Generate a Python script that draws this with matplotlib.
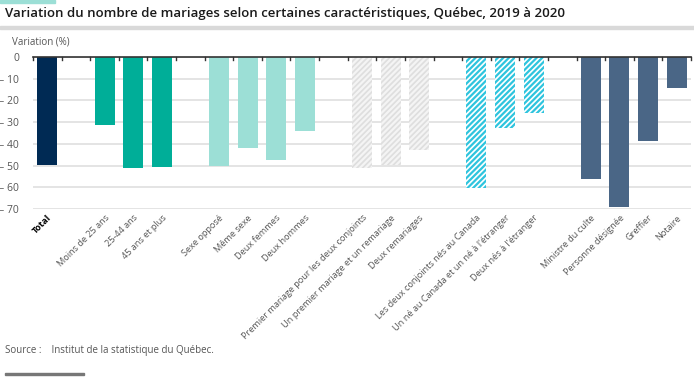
import matplotlib.pyplot as plt
from matplotlib.ticker import FuncFormatter

plt.rcParams['font.family'] = ['Open Sans', 'DejaVu Sans']
plt.rcParams['hatch.linewidth'] = 1.6

# Data (variation in %), one list per group
total_labels = ['Total']
total_values = [-49.6]

age_labels = ['Moins de 25 ans', '25-44 ans', '45 ans et plus']
age_values = [-31.5, -51.3, -50.5]

sexe_labels = ['Sexe opposé', 'Même sexe', 'Deux femmes', 'Deux hommes']
sexe_values = [-50.1, -41.7, -47.6, -34.3]

etat_labels = ['Premier mariage pour les deux conjoints',
               'Un premier mariage et un remariage', 'Deux remariages']
etat_values = [-51.1, -49.6, -42.6]

lieu_labels = ['Les deux conjoints nés au Canada',
               'Un né au Canada et un né à l\'étranger', 'Deux nés à l\'étranger']
lieu_values = [-60.5, -32.9, -25.6]

celeb_labels = ['Ministre du culte', 'Personne désignée', 'Greffier', 'Notaire']
celeb_values = [-56.4, -69.2, -38.9, -14.5]

groups = [
    (total_labels, total_values, dict(color='#002a54')),
    (age_labels, age_values, dict(color='#00ae98')),
    (sexe_labels, sexe_values, dict(color='#9cdfd6')),
    (etat_labels, etat_values, dict(color='#dedede', edgecolor='#f4f4f4', hatch='//////')),
    (lieu_labels, lieu_values, dict(color='white', edgecolor='#2ec4de', hatch='//////')),
    (celeb_labels, celeb_values, dict(color='#4a6686')),
]

fig = plt.figure(figsize=(6.94, 3.77), dpi=100)
ax = fig.add_axes([33 / 694, 1 - 209 / 377, 658 / 694, 152 / 377])

pos = 0
ticks, ticklabels = [], []
for i, (labels, values, style) in enumerate(groups):
    if i > 0:
        pos += 1  # empty slot between groups
    xs = list(range(pos, pos + len(labels)))
    ax.bar(xs, values, width=0.7, linewidth=0, zorder=3, **style)
    ticks += xs
    ticklabels += labels
    pos += len(labels)

n = pos
ax.set_xlim(-0.5, n - 0.5)
ax.set_ylim(-70, 0)
ax.set_yticks(range(-70, 1, 10))
ax.yaxis.set_major_formatter(FuncFormatter(lambda v, p: '0' if v == 0 else f'\u2013 {abs(int(v))}'))
ax.grid(axis='y', color='#e4e4e4', linewidth=1.4, zorder=0)
ax.tick_params(axis='y', length=0, labelsize=7.5, labelcolor='#555555', pad=10)

# category labels at the bottom
ax.set_xticks(ticks)
ax.set_xticklabels(ticklabels, rotation=45, ha='right', rotation_mode='anchor',
                   fontsize=6.6, color='#555555')
ax.tick_params(axis='x', length=0, pad=3)
lab0 = ax.get_xticklabels()[0]
lab0.set_fontweight('bold')
lab0.set_color('black')

# boundary tick marks along the zero line
for k in range(n + 1):
    ax.plot([k - 0.5, k - 0.5], [0, -1.4], color='#333333', linewidth=1,
            zorder=4, clip_on=False)

for s in ['left', 'right', 'bottom']:
    ax.spines[s].set_visible(False)
ax.spines['top'].set_color('#333333')
ax.spines['top'].set_linewidth(1.2)
ax.spines['top'].set_zorder(5)

fig.text(12 / 694, 1 - 42 / 377, 'Variation (%)', fontsize=7, color='#555555', va='center')

# header
fig.patches.append(plt.Rectangle((0, 1 - 3 / 377), 55 / 694, 3 / 377,
                                 transform=fig.transFigure, color='#9cdfd6'))
fig.text(5 / 694, 1 - 13 / 377, 'Variation du nombre de mariages selon certaines caractéristiques, Québec, 2019 à 2020',
         fontsize=9.5, fontweight='semibold', color='#1a1a1a', va='center')
fig.patches.append(plt.Rectangle((0, 1 - 29 / 377), 1, 3 / 377,
                                 transform=fig.transFigure, color='#d9d9d9'))

# footer
fig.text(5 / 694, 1 - 351 / 377, 'Source :    Institut de la statistique du Québec.',
         fontsize=7, color='#555555', va='center')
fig.patches.append(plt.Rectangle((5 / 694, 1 - 375 / 377), 79 / 694, 2 / 377,
                                 transform=fig.transFigure, color='#777777'))

fig.savefig('out.png', dpi=100)
